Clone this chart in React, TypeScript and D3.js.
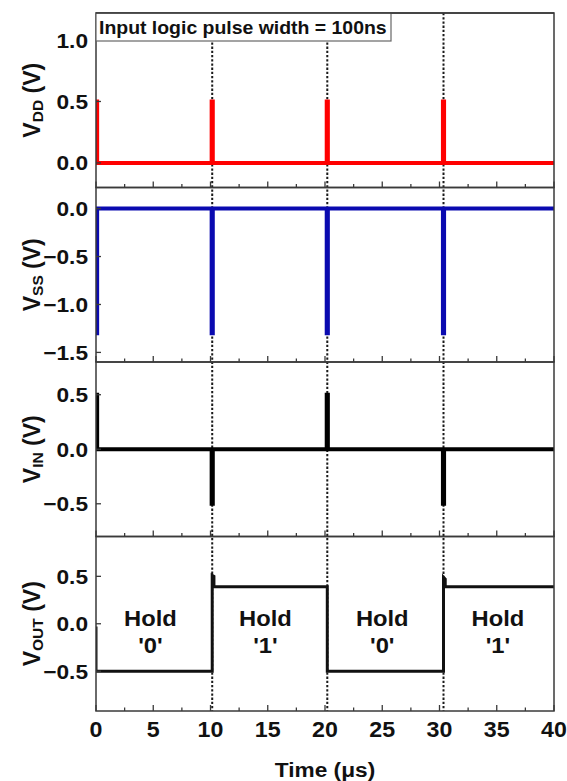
import React from "react";
import * as d3 from "d3";

// ---- data ----
const xTicks = [0, 5, 10, 15, 20, 25, 30, 35, 40];
const xMinorTicks = [2.5, 7.5, 12.5, 17.5, 22.5, 27.5, 32.5, 37.5];
const switchTimes = [10.15, 20.2, 30.35];

const vddPts: [number, number][] = [
  [0, 0.5], [0.1, 0.5], [0.1, 0], [10.1, 0], [10.1, 0.5], [10.2, 0.5], [10.2, 0],
  [20.15, 0], [20.15, 0.5], [20.25, 0.5], [20.25, 0], [30.3, 0], [30.3, 0.5],
  [30.4, 0.5], [30.4, 0], [40, 0],
];
const vssPts: [number, number][] = [
  [0, -1.3], [0.1, -1.3], [0.1, 0], [10.1, 0], [10.1, -1.3], [10.2, -1.3], [10.2, 0],
  [20.15, 0], [20.15, -1.3], [20.25, -1.3], [20.25, 0], [30.3, 0], [30.3, -1.3],
  [30.4, -1.3], [30.4, 0], [40, 0],
];
const vinPts: [number, number][] = [
  [0, 0.5], [0.1, 0.5], [0.1, 0], [10.1, 0], [10.1, -0.5], [10.2, -0.5], [10.2, 0],
  [20.15, 0], [20.15, 0.5], [20.25, 0.5], [20.25, 0], [30.3, 0], [30.3, -0.5],
  [30.4, -0.5], [30.4, 0], [40, 0],
];
const voutPts: [number, number][] = [
  [0, -0.03], [0, -0.5], [10.15, -0.5], [10.15, 0.51], [10.3, 0.5], [10.3, 0.39],
  [20.2, 0.39], [20.2, -0.5], [30.35, -0.5], [30.35, 0.49], [30.5, 0.47], [30.5, 0.39],
  [40, 0.39],
];

const holdX = [4.75, 14.8, 25, 35.1];
const holdBits = ["'0'", "'1'", "'0'", "'1'"];

const panelDomains: [number, number][] = [
  [-0.2, 1.22],
  [-1.6, 0.22],
  [-0.8, 0.8],
  [-0.92, 0.92],
];
const panelTicks = [
  [0, 0.5, 1.0],
  [0, -0.5, -1.0, -1.5],
  [-0.5, 0, 0.5],
  [-0.5, 0, 0.5],
];
const panelLabels = [
  { main: "V", sub: "DD" },
  { main: "V", sub: "SS" },
  { main: "V", sub: "IN" },
  { main: "V", sub: "OUT" },
];
const panelSeries = [vddPts, vssPts, vinPts, voutPts];
const panelColors = ["#ff0000", "#0a0ab0", "#000000", "#111111"];
const panelWidths = [4, 4, 4, 3];

// ---- layout ----
const W = 567;
const H = 781;
const left = 96;
const right = 554;
const top = 13;
const bottom = 711;
const nP = 4;
const ph = (bottom - top) / nP;
const FONT = "'Liberation Sans', Arial, Helvetica, sans-serif";
const frameColor = "#3a3a3a";
const SX = 1.08; // horizontal stretch of text seen in the reference

export default function App() {
  const x = d3.scaleLinear().domain([0, 40]).range([left, right]);
  const stretchText = (tx: number, ty: number) => `translate(${tx},${ty}) scale(${SX},1)`;
  return (
    <svg
      width={W}
      height={H}
      style={{ position: "absolute", left: 0, top: 0, background: "#fff" }}
      fontFamily={FONT}
    >
      <defs>
        {panelDomains.map((_, i) => (
          <clipPath id={`clip${i}`} key={i}>
            <rect x={left} y={top + i * ph} width={right - left} height={ph} />
          </clipPath>
        ))}
      </defs>
      <rect x={0} y={0} width={W} height={H} fill="#fff" />
      {/* dotted switching lines */}
      {switchTimes.map((t, i) => (
        <line
          key={"d" + i}
          x1={x(t)}
          x2={x(t)}
          y1={top}
          y2={bottom}
          stroke="#1a1a1a"
          strokeWidth={2}
          strokeDasharray="2.3,1.9"
        />
      ))}
      {panelDomains.map((dom, i) => {
        const y0 = top + i * ph;
        const y1 = y0 + ph;
        const y = d3.scaleLinear().domain(dom).range([y1, y0]);
        const line = d3
          .line<[number, number]>()
          .x((d) => x(d[0]))
          .y((d) => y(d[1]));
        const lab = panelLabels[i];
        const cy = (y0 + y1) / 2;
        return (
          <g key={i}>
            <path
              d={line(panelSeries[i]) || ""}
              fill="none"
              stroke={panelColors[i]}
              strokeWidth={panelWidths[i]}
              strokeLinejoin="miter"
              clipPath={`url(#clip${i})`}
            />
            {/* frame */}
            <rect
              x={left}
              y={y0}
              width={right - left}
              height={ph}
              fill="none"
              stroke={frameColor}
              strokeWidth={1.5}
            />
            {/* x ticks inward */}
            {xTicks.map((t) => (
              <line key={"xt" + t} x1={x(t)} x2={x(t)} y1={y1} y2={y1 - 6} stroke={frameColor} strokeWidth={1.3} />
            ))}
            {xMinorTicks.map((t) => (
              <line key={"xm" + t} x1={x(t)} x2={x(t)} y1={y1} y2={y1 - 3.5} stroke={frameColor} strokeWidth={1.3} />
            ))}
            {/* y ticks */}
            {panelTicks[i].map((v) => (
              <g key={"yt" + v}>
                <line x1={left} x2={left + 5} y1={y(v)} y2={y(v)} stroke={frameColor} strokeWidth={1.3} />
                <text
                  transform={stretchText(88, y(v))}
                  dy="0.36em"
                  textAnchor="end"
                  fontSize={21}
                  fontWeight="bold"
                  fill="#111"
                >
                  {d3.format(".1f")(v)}
                </text>
              </g>
            ))}
            {/* y title */}
            <text
              transform={`translate(40,${cy}) rotate(-90)`}
              textAnchor="middle"
              fontSize={23}
              fontWeight="bold"
              fill="#111"
            >
              <tspan>{lab.main}</tspan>
              <tspan fontSize={15.5} dy={3}>
                {lab.sub}
              </tspan>
              <tspan dy={-3}> (V)</tspan>
            </text>
            {i === 3 &&
              holdX.map((hx, k) => (
                <g key={"h" + k}>
                  <text transform={stretchText(x(hx), y(-0.02))} textAnchor="middle" fontSize={22} fontWeight="bold" fill="#111">
                    Hold
                  </text>
                  <text transform={stretchText(x(hx), y(-0.31))} textAnchor="middle" fontSize={22} fontWeight="bold" fill="#111">
                    {holdBits[k]}
                  </text>
                </g>
              ))}
          </g>
        );
      })}
      {/* annotation box */}
      <rect x={left} y={top} width={295} height={28} fill="#fff" stroke="#666" strokeWidth={1.2} />
      <text transform={stretchText(left + 3, top + 20.5)} fontSize={18} fontWeight="bold" fill="#111">
        Input logic pulse width = 100ns
      </text>
      {/* redraw frame top edge over box */}
      <line x1={left} x2={right} y1={top} y2={top} stroke={frameColor} strokeWidth={1.5} />
      {/* x tick labels */}
      {xTicks.map((t) => (
        <text key={"xl" + t} transform={stretchText(x(t), 737)} textAnchor="middle" fontSize={21.5} fontWeight="bold" fill="#111">
          {t}
        </text>
      ))}
      <text transform={stretchText(325, 777)} textAnchor="middle" fontSize={21} fontWeight="bold" fill="#111">
        Time (μs)
      </text>
    </svg>
  );
}
